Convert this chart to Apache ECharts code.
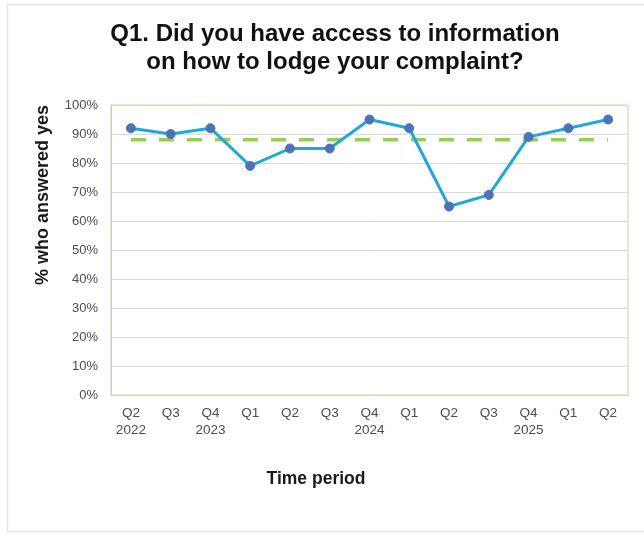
<!DOCTYPE html>
<html>
<head>
<meta charset="utf-8">
<script src="https://cdn.jsdelivr.net/npm/echarts@6/dist/echarts.min.js"></script>
<style>
  html, body { margin: 0; padding: 0; background: #ffffff; }
  #chart { width: 644px; height: 534px; }
</style>
</head>
<body>
<div id="chart"></div>
<script>
// Quarterly survey results: share of respondents who answered "yes"
const quarters = ['Q2', 'Q3', 'Q4', 'Q1', 'Q2', 'Q3', 'Q4', 'Q1', 'Q2', 'Q3', 'Q4', 'Q1', 'Q2'];
const years    = ['2022', '', '2023', '', '', '', '2024', '', '', '', '2025', '', ''];
const yesPct   = [92, 90, 92, 79, 85, 85, 95, 92, 65, 69, 89, 92, 95];
const targetPct = [88, 88, 88, 88, 88, 88, 88, 88, 88, 88, 88, 88, 88];
const yTicks = [0, 10, 20, 30, 40, 50, 60, 70, 80, 90, 100];

const categories = quarters.map((q, i) => years[i] ? q + '\n' + years[i] : q);

const FONT = 'Liberation Sans, Arial, sans-serif';
const chart = echarts.init(document.getElementById('chart'), null, { renderer: 'canvas' });

chart.setOption({
  backgroundColor: '#ffffff',
  animation: false,
  title: {
    text: 'Q1. Did you have access to information\non how to lodge your complaint?',
    left: 330,
    top: 15,
    textAlign: 'center',
    textStyle: {
      fontFamily: FONT,
      fontSize: 24,
      fontWeight: 'bold',
      color: '#111111',
      lineHeight: 28.5
    }
  },
  graphic: [
    {
      type: 'rect',
      shape: { x: 7.5, y: 4.5, width: 700, height: 527 },
      style: { fill: 'none', stroke: '#e4e4e4', lineWidth: 1.5 },
      silent: true
    },
    {
      type: 'text',
      x: 43,
      y: 195,
      rotation: Math.PI / 2,
      style: {
        text: '% who answered yes',
        fontFamily: FONT,
        fontSize: 18,
        fontWeight: 'bold',
        fill: '#1a1a1a',
        align: 'center',
        verticalAlign: 'middle'
      }
    },
    {
      type: 'text',
      x: 316,
      y: 479,
      style: {
        text: 'Time period',
        fontFamily: FONT,
        fontSize: 17.5,
        fontWeight: 'bold',
        fill: '#1a1a1a',
        align: 'center',
        verticalAlign: 'middle'
      }
    }
  ],
  grid: {
    left: 111,
    right: 16,
    top: 105,
    bottom: 139,
    show: true,
    borderColor: '#b9dc9c',
    borderWidth: 1
  },
  xAxis: {
    type: 'category',
    data: categories,
    boundaryGap: true,
    axisLine: { show: true, lineStyle: { color: '#c9dcbc', width: 1 } },
    axisTick: { show: false },
    axisLabel: {
      interval: 0,
      margin: 10,
      fontFamily: FONT,
      fontSize: 13.5,
      color: '#4d4d4d',
      lineHeight: 17
    },
    splitLine: { show: false }
  },
  yAxis: {
    type: 'value',
    min: yTicks[0],
    max: yTicks[yTicks.length - 1],
    interval: 10,
    axisLine: { show: true, lineStyle: { color: '#b9dc9c', width: 1 } },
    axisTick: { show: false },
    axisLabel: {
      formatter: v => v + '%',
      margin: 13,
      fontFamily: FONT,
      fontSize: 13,
      color: '#4d4d4d'
    },
    splitLine: { show: true, lineStyle: { color: '#d9d9d9', width: 1 } }
  },
  series: [
    {
      name: 'Target',
      type: 'line',
      data: targetPct,
      symbol: 'none',
      z: 2,
      lineStyle: { color: '#92d050', width: 3.5, type: [15, 13] }
    },
    {
      name: 'Yes',
      type: 'line',
      data: yesPct,
      symbol: 'circle',
      symbolSize: 9,
      z: 3,
      lineStyle: { color: '#1fa8df', width: 3 },
      itemStyle: { color: '#4a73b8', borderColor: '#4a73b8' }
    }
  ]
});
</script>
</body>
</html>
